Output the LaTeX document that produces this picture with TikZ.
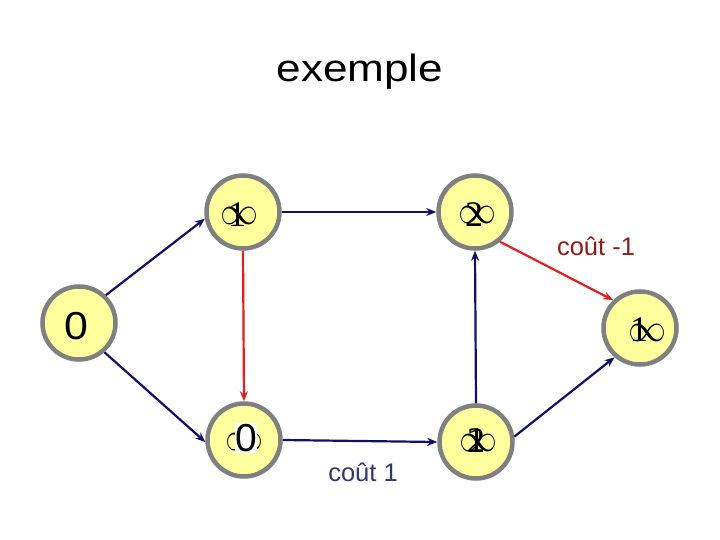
\documentclass[tikz,border=0pt]{standalone}
\usepackage{graphicx}
\usepackage{fontspec}
\setmainfont{Liberation Sans}
\newfontfamily\serifdigits{Liberation Serif}
\usetikzlibrary{arrows.meta}
\definecolor{nodefill}{HTML}{FFFF9E}
\definecolor{nodeborder}{HTML}{808080}
\definecolor{navyline}{HTML}{10106A}
\definecolor{redline}{HTML}{E02020}
\definecolor{redlabel}{HTML}{8B1C1C}
\definecolor{bluelabel}{HTML}{35356F}
\newcommand{\biginf}{\resizebox{38pt}{17pt}{$\infty$}}
\begin{document}
\begin{tikzpicture}[x=1pt,y=-1pt,
  vertex/.style={circle,draw=nodeborder,fill=nodefill,line width=4.5pt,minimum size=73pt,inner sep=0pt},
  inftext/.style={inner sep=0pt},
  digtext/.style={inner sep=0pt,font=\fontsize{36}{36}\serifdigits},
  sanstext/.style={inner sep=0pt,font=\fontsize{39}{39}\selectfont},
  navyarrow/.style={draw=navyline,line width=2.2pt,-{Stealth[length=10pt,width=8pt]}},
  redarrow/.style={draw=redline,line width=2.2pt,-{Stealth[length=10pt,width=8pt]}},
  costlabel/.style={inner sep=0pt,anchor=base,font=\fontsize{25.5}{25.5}\selectfont},
]
\fill[white] (0,0) rectangle (720,540);
\useasboundingbox (0,0) rectangle (720,540);

\node[inner sep=0pt,anchor=base,xscale=1.16,font=\fontsize{38}{38}\selectfont] (title) at (360,82) {exemple};

% vertices
\node[vertex] (n0) at (79,323) {};
\node[vertex] (n1) at (243,212) {};
\node[vertex] (n2) at (475,212) {};
\node[vertex] (n3) at (244,440) {};
\node[vertex] (n4) at (476,442) {};
\node[vertex] (n5) at (640,328) {};

% labels inside vertices
\node[sanstext,xscale=1.1] (l0) at (76,326) {0};

\node[inftext] (i1) at (239,216) {\biginf};
\node[digtext] (l1) at (237,215) {1};

\node[inftext] (i2) at (477,215) {\biginf};
\node[digtext] (l2) at (474,215) {2};

\node[inftext] (i3) at (244,442) {\biginf};
\node[sanstext,fill=white,inner xsep=0.5pt,inner ysep=1.5pt] (l3) at (246,438) {0};

\node[inftext] (i4) at (478,443) {\biginf};
\node[digtext] (l4a) at (476,441) {2};
\node[digtext] (l4b) at (476,441) {1};

\node[inftext] (i5) at (647,333) {\biginf};
\node[digtext] (l5) at (639,330) {1};

% connectors
\draw[navyarrow] (n0.46) -- (n1.190);
\draw[navyarrow] (n0.-49) -- (n3.183);
\draw[navyarrow] (n1.east) -- (n2.west);
\draw[redarrow] (n1.south) -- (n3.north);
\draw[redarrow] (n2.-50) -- (n5.134);
\draw[navyarrow] (n3.east) -- (n4.west);
\draw[navyarrow] (n4.north) -- (n2.south);
\draw[navyarrow] (n4.8) -- (n5.229);

% cost labels
\node[costlabel,text=redlabel] (c1) at (596,255) {coût -1};
\node[costlabel,text=bluelabel] (c2) at (363,481) {coût 1};
\end{tikzpicture}
\end{document}
